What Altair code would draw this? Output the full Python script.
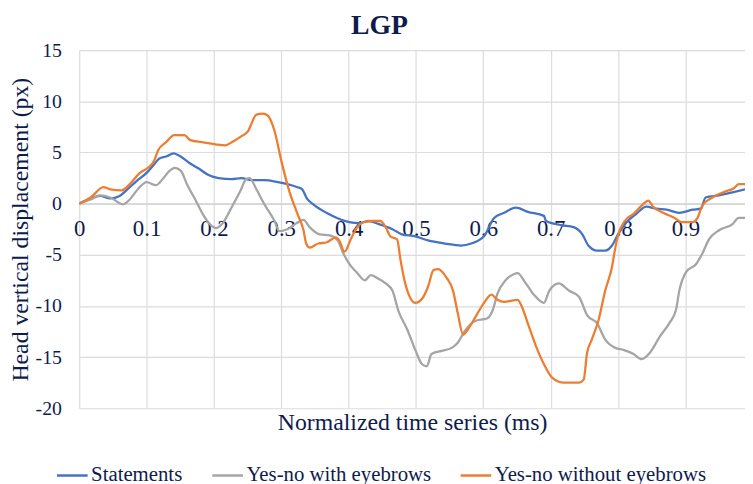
import altair as alt
import pandas as pd

# ---- data ----
series_names = ["Statements", "Yes-no with eyebrows", "Yes-no without eyebrows"]
series_colors = ["#4472C4", "#A5A5A5", "#ED7D31"]

stat_x = [0, 0.017, 0.031, 0.046, 0.06, 0.07, 0.085, 0.1, 0.112, 0.119, 0.129, 0.14, 0.148,
          0.163, 0.178, 0.192, 0.207, 0.226, 0.241, 0.256, 0.275, 0.295, 0.309, 0.324, 0.331,
          0.338, 0.347, 0.367, 0.386, 0.401, 0.416, 0.43, 0.445, 0.465, 0.479, 0.499, 0.518,
          0.543, 0.567, 0.582, 0.601, 0.616, 0.631, 0.648, 0.666, 0.69, 0.693, 0.715, 0.734,
          0.747, 0.756, 0.769, 0.781, 0.791, 0.8, 0.813, 0.827, 0.842, 0.857, 0.872, 0.891,
          0.911, 0.923, 0.93, 0.95, 0.97, 0.989]
stat_y = [0, 0.5, 0.75, 0.5, 0.75, 1.3, 2.2, 3.0, 3.9, 4.4, 4.6, 4.9, 4.7,
          4.0, 3.4, 2.8, 2.5, 2.4, 2.5, 2.3, 2.3, 2.1, 1.9, 1.6, 1.4,
          0.5, -0.06, -0.9, -1.5, -1.8, -1.9, -1.7, -2.0, -2.5, -3.0, -3.2, -3.6,
          -3.9, -4.1, -3.9, -3.2, -1.4, -0.9, -0.4, -0.8, -1.2, -1.7, -2.1, -2.3,
          -3.0, -4.1, -4.6, -4.6, -4.1, -3.0, -1.8, -1.0, -0.3, -0.5, -0.6, -0.9,
          -0.6, -0.5, 0.6, 0.8, 1.1, 1.4]

brow_x = [0, 0.017, 0.031, 0.046, 0.065, 0.075, 0.087, 0.1, 0.114, 0.124, 0.134, 0.142, 0.151,
          0.16, 0.173, 0.185, 0.197, 0.203, 0.212, 0.226, 0.239, 0.248, 0.253, 0.263, 0.275,
          0.29, 0.297, 0.309, 0.323, 0.333, 0.342, 0.357, 0.372, 0.384, 0.391, 0.401, 0.413,
          0.424, 0.433, 0.443, 0.455, 0.465, 0.474, 0.487, 0.499, 0.509, 0.516, 0.523, 0.538,
          0.553, 0.562, 0.572, 0.587, 0.606, 0.614, 0.621, 0.633, 0.645, 0.651, 0.661, 0.675,
          0.69, 0.698, 0.712, 0.727, 0.742, 0.754, 0.769, 0.781, 0.796, 0.808, 0.823, 0.835,
          0.847, 0.862, 0.876, 0.886, 0.891, 0.901, 0.916, 0.925, 0.935, 0.95, 0.97, 0.979, 0.989]
brow_y = [0, 0.4, 0.8, 0.6, -0.07, 0.4, 1.4, 2.1, 1.8, 2.4, 3.2, 3.5, 3.2,
          1.9, 0.3, -1.2, -2.2, -2.4, -2.0, -0.4, 1.2, 2.4, 2.5, 1.4, -0.07,
          -1.7, -2.7, -2.5, -1.9, -1.6, -2.3, -3.0, -3.1, -3.6, -4.7, -5.9, -6.8,
          -7.5, -7.0, -7.3, -7.8, -8.5, -10.5, -12.3, -14.3, -15.7, -15.9, -14.7, -14.4,
          -14.1, -13.6, -12.5, -11.5, -11.2, -10.4, -8.8, -7.5, -6.9, -6.8, -7.6, -8.9,
          -9.7, -8.5, -7.8, -8.5, -9.1, -10.9, -11.7, -13.3, -14.1, -14.3, -14.7, -15.2,
          -14.6, -13.0, -11.7, -10.4, -8.5, -6.7, -5.9, -4.9, -3.5, -2.6, -2.0, -1.4, -1.4]

nobrow_x = [0, 0.017, 0.036, 0.046, 0.063, 0.075, 0.09, 0.102, 0.112, 0.117, 0.129, 0.141, 0.156,
            0.165, 0.182, 0.202, 0.217, 0.229, 0.241, 0.251, 0.255, 0.263, 0.273, 0.28, 0.29,
            0.3, 0.312, 0.324, 0.333, 0.337, 0.342, 0.355, 0.367, 0.381, 0.386, 0.394, 0.403,
            0.413, 0.423, 0.435, 0.447, 0.455, 0.462, 0.472, 0.477, 0.484, 0.499, 0.509, 0.518,
            0.526, 0.533, 0.545, 0.555, 0.562, 0.57, 0.577, 0.589, 0.601, 0.612, 0.621, 0.631,
            0.651, 0.656, 0.666, 0.678, 0.69, 0.702, 0.72, 0.742, 0.749, 0.754, 0.761, 0.771,
            0.781, 0.791, 0.796, 0.8, 0.81, 0.823, 0.835, 0.845, 0.852, 0.867, 0.884, 0.894,
            0.911, 0.918, 0.925, 0.94, 0.96, 0.972, 0.979, 0.989]
nobrow_y = [0, 0.6, 1.6, 1.4, 1.3, 1.9, 3.0, 3.5, 4.3, 5.2, 6.0, 6.7, 6.7,
            6.2, 6.0, 5.8, 5.7, 6.1, 6.6, 7.1, 7.7, 8.7, 8.8, 8.6, 7.1,
            4.2, 1.2, -1.0, -2.6, -3.9, -4.3, -3.9, -3.8, -3.3, -3.6, -4.7, -3.5,
            -2.3, -1.8, -1.7, -1.7, -2.3, -3.2, -3.5, -5.5, -7.8, -9.7, -9.3, -8.1,
            -6.5, -6.4, -7.2, -8.5, -10.7, -12.8, -12.3, -11.0, -9.7, -8.9, -9.4, -9.6,
            -9.4, -9.9, -11.7, -13.9, -15.7, -17.0, -17.5, -17.5, -17.2, -14.6, -13.3, -11.4,
            -8.5, -6.2, -4.3, -3.1, -1.7, -1.0, -0.2, 0.3, -0.3, -0.9, -1.4, -1.8,
            -1.8, -1.4, -0.2, 0.6, 1.2, 1.5, 1.9, 1.9]

x_ticks = [0, 0.1, 0.2, 0.3, 0.4, 0.5, 0.6, 0.7, 0.8, 0.9]
y_ticks = [-20, -15, -10, -5, 0, 5, 10, 15]

# ---- long table ----
rows = []
for name, xs, ys in zip(series_names, [stat_x, brow_x, nobrow_x], [stat_y, brow_y, nobrow_y]):
    for xv, yv in zip(xs, ys):
        rows.append({"t": xv, "v": yv, "series": name})
df = pd.DataFrame(rows)

NAVY = "#0E1B4D"
FONT = "Liberation Serif"
W, H = 673, 362
zero_from_bottom = H * 20 / 35

chart = alt.Chart(df).mark_line(strokeWidth=2.3, interpolate="monotone", clip=True).encode(
    x=alt.X("t:Q",
            scale=alt.Scale(domain=[0, 0.9885], nice=False, zero=False),
            axis=alt.Axis(values=x_ticks, labelExpr="datum.value + ''", grid=True, ticks=False,
                          tickSize=0, offset=-zero_from_bottom, domain=True,
                          domainColor="#CFCFCF", domainWidth=1.3, labelPadding=14,
                          labelFont=FONT, labelFontSize=23, labelColor=NAVY, labelFlush=False,
                          title="Normalized time series (ms)", titleFont=FONT, titleFontSize=24,
                          titleFontWeight="normal", titleColor=NAVY, titlePadding=172)),
    y=alt.Y("v:Q",
            scale=alt.Scale(domain=[-20, 15], nice=False),
            axis=alt.Axis(values=y_ticks, labelExpr="datum.value + ''", grid=True, ticks=False,
                          tickSize=0, domain=False, labelPadding=18, labelFont=FONT,
                          labelFontSize=20, labelColor=NAVY,
                          title="Head vertical displacement (px)", titleFont=FONT,
                          titleFontSize=24, titleFontWeight="normal", titleColor=NAVY,
                          titlePadding=3)),
    color=alt.Color("series:N",
                    scale=alt.Scale(domain=series_names, range=series_colors),
                    legend=alt.Legend(orient="none", legendX=-24, legendY=413,
                                      direction="horizontal", title=None,
                                      symbolType="stroke", symbolSize=961,
                                      symbolStrokeWidth=2.5, labelFont=FONT,
                                      labelFontSize=21, labelColor=NAVY, labelOffset=2,
                                      columnPadding=24, labelLimit=400)),
).properties(
    width=W, height=H,
    title=alt.TitleParams("LGP", font=FONT, fontSize=28, fontWeight="bold", color=NAVY,
                          anchor="middle", dx=-33, dy=4, offset=4),
    autosize=alt.AutoSizeParams(type="none"),
    padding={"left": 72, "top": 40, "right": 0, "bottom": 74},
).configure(font=FONT).configure_view(stroke=None).configure_axis(
    gridColor="#DCDCDC", gridWidth=1.2, labelFont=FONT, titleFont=FONT
).configure_legend(labelFont=FONT)

chart.save("out.html", embed_options={"renderer": "svg", "actions": False})
